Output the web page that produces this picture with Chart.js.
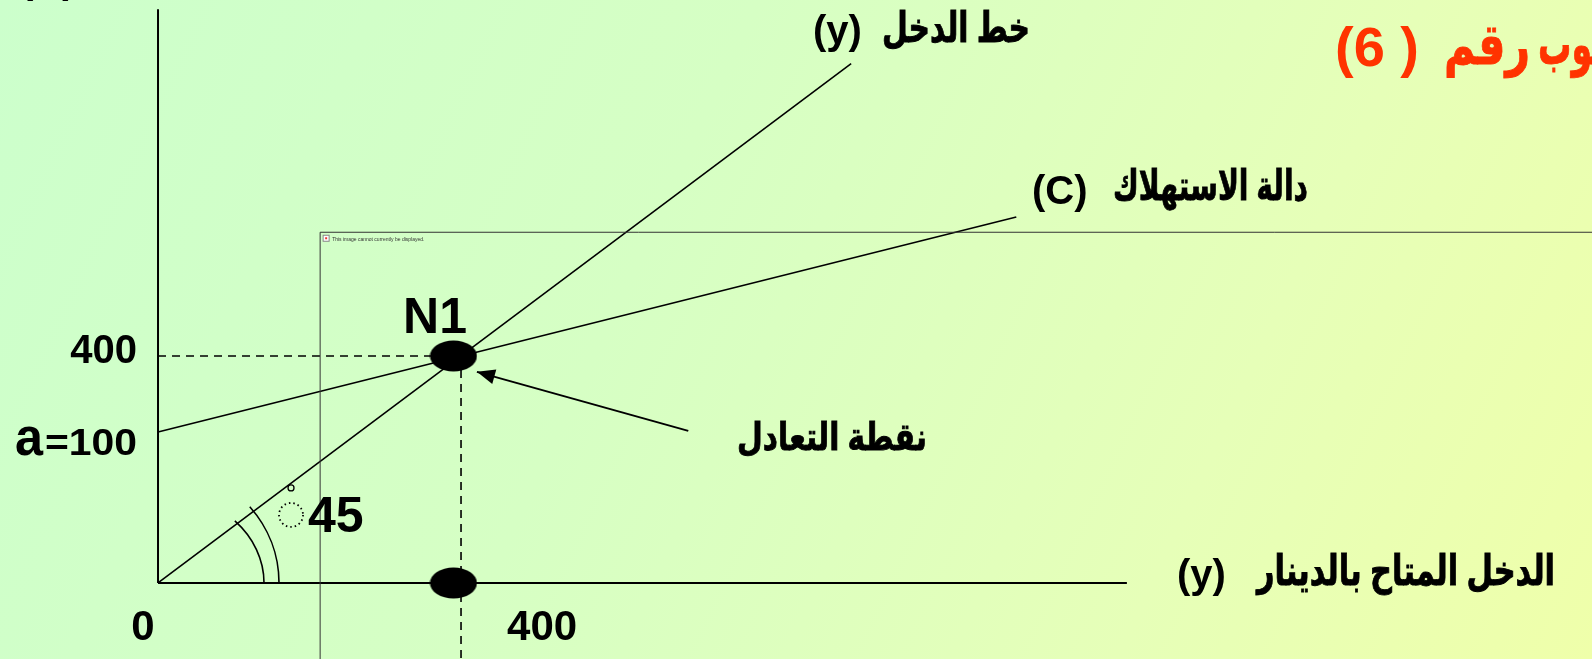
<!DOCTYPE html>
<html lang="ar">
<head>
    <meta charset="UTF-8">
    <title>نقطة التعادل - دالة الاستهلاك</title>
    <script src="https://cdn.jsdelivr.net/npm/chart.js"></script>
    <style>
        body {
            margin: 0;
            overflow: hidden;
        }
        /* Slide background: pale green to pale yellow */
        .slide {
            position: relative;
            width: 1592px;
            height: 659px;
            background: linear-gradient(115deg, #ccffcc 0%, #d6ffc4 40%, #e6ffb8 75%, #efffaa 100%);
        }
    </style>
</head>
<body>
<div class="slide">
    <canvas id="chart"></canvas>
</div>

<script>
    // Values read from the schematic (chart units; drawing is not to scale)
    const equilibrium = 400;
    const incomeX = [0, 915];          // 45 degree line y = x
    const incomeY = [0, 915];
    const consX = [0, 1133];           // C = a + bY, drawn intercept sits at 266 on the sketch
    const consY = [266, 645];
    const axisXEnd = 1279;
    const axisYEnd = 1011;
    const markerX = [390, 390];        // black ovals
    const markerY = [400, 0];
    const arrowX = [700, 421];         // tail, tip
    const arrowY = [268, 372];
    const frameX = [214, 214, 1950];   // broken picture frame
    const frameY = [-200, 618, 618];

    const yTickValues = [400, 266];
    const yTickLabels = ['400', 'a=100'];
    const xTickValues = [0, 400];
    const xTickLabels = ['0', '400'];

    const pts = (xs, ys) => xs.map((x, i) => ({ x: x, y: ys[i] }));

    const LATIN = 'Arial, "Liberation Sans", sans-serif';
    const ARABIC = 'Arial, "DejaVu Sans", "Noto Sans", sans-serif';

    // filled oval used as point style
    const oval = document.createElement('canvas');
    oval.width = 48;
    oval.height = 32;
    const oc = oval.getContext('2d');
    oc.fillStyle = '#000';
    oc.beginPath();
    oc.ellipse(24, 16, 23.5, 15.5, 0, 0, Math.PI * 2);
    oc.fill();

    const lineDs = (data, extra) => Object.assign({
        data: data,
        showLine: true,
        borderColor: '#000',
        borderWidth: 1.6,
        pointRadius: 0,
        fill: false
    }, extra || {});

    // text squeezed to the width it takes on the slide, right edge fixed
    function fitText(ctx, txt, right, base, font, width, rtl, heavy) {
        ctx.save();
        ctx.font = font;
        ctx.direction = rtl ? 'rtl' : 'ltr';
        ctx.textAlign = 'right';
        const w = ctx.measureText(txt).width;
        ctx.translate(right, base);
        ctx.scale(width / w, 1);
        ctx.fillText(txt, 0, 0);
        if (heavy) {
            ctx.lineWidth = heavy;
            ctx.strokeStyle = ctx.fillStyle;
            ctx.strokeText(txt, 0, 0);
        }
        ctx.restore();
    }
    const arabicFit = (ctx, txt, right, base, size, width) =>
        fitText(ctx, txt, right, base, 'bold ' + size + 'px ' + ARABIC, width, true, 0.9);

    // texts, ticks, angle marks and arrow head
    const sketchPlugin = {
        id: 'sketch',
        afterDatasetsDraw(chart) {
            const ctx = chart.ctx;
            const sx = chart.scales.x, sy = chart.scales.y;
            const px = v => sx.getPixelForValue(v);
            const py = v => sy.getPixelForValue(v);
            const ox = px(0), oy = py(0);

            ctx.save();
            ctx.fillStyle = '#000';
            ctx.strokeStyle = '#000';

            // arrow head
            const tx = px(arrowX[1]), ty = py(arrowY[1]);
            const ang = Math.atan2(ty - py(arrowY[0]), tx - px(arrowX[0]));
            ctx.beginPath();
            ctx.moveTo(tx, ty);
            ctx.lineTo(tx - 18 * Math.cos(ang) + 7.5 * Math.sin(ang), ty - 18 * Math.sin(ang) - 7.5 * Math.cos(ang));
            ctx.lineTo(tx - 18 * Math.cos(ang) - 7.5 * Math.sin(ang), ty - 18 * Math.sin(ang) + 7.5 * Math.cos(ang));
            ctx.closePath();
            ctx.fill();

            // angle arcs at the origin
            ctx.lineWidth = 1.6;
            [[106, 90, 0.76], [121, 117, 0.71]].forEach(a => {
                ctx.beginPath();
                ctx.ellipse(ox, oy, a[0], a[1], 0, 0, -a[2], true);
                ctx.stroke();
            });
            // degree sign and dotted circle
            ctx.lineWidth = 1.3;
            ctx.beginPath();
            ctx.arc(ox + 133, oy - 95, 3, 0, Math.PI * 2);
            ctx.stroke();
            ctx.setLineDash([1.5, 3]);
            ctx.lineWidth = 1.8;
            ctx.beginPath();
            ctx.arc(ox + 133, oy - 68, 12, 0, Math.PI * 2);
            ctx.stroke();
            ctx.setLineDash([]);

            ctx.textBaseline = 'alphabetic';
            ctx.direction = 'ltr';

            // y tick labels
            yTickValues.forEach((v, i) => {
                const lab = yTickLabels[i];
                const y = py(v);
                ctx.textAlign = 'right';
                if (lab.startsWith('a=')) {
                    fitText(ctx, lab.slice(1), ox - 21, y + 23, 'bold 36px ' + LATIN, 92, false, 0);
                    fitText(ctx, 'a', ox - 21 - 94, y + 23, 'bold 54px ' + LATIN, 28, false, 0);
                } else {
                    ctx.font = 'bold 40px ' + LATIN;
                    ctx.fillText(lab, ox - 21, y + 7);
                }
            });
            // x tick labels
            ctx.font = 'bold 42px ' + LATIN;
            ctx.textAlign = 'center';
            ctx.fillText(xTickLabels[0], px(xTickValues[0]) - 15, oy + 57);
            ctx.textAlign = 'left';
            ctx.fillText(xTickLabels[1], px(xTickValues[1]) + 46, oy + 57);

            // N1 and 45
            ctx.font = 'bold 50px ' + LATIN;
            ctx.textAlign = 'center';
            ctx.fillText('N1', px(equilibrium) - 26, py(equilibrium) - 23);
            ctx.textAlign = 'left';
            ctx.fillText('45', ox + 150, oy - 51);

            // axis titles: arabic words + latin symbol on the left
            ctx.font = 'bold 40px ' + LATIN;
            ctx.textAlign = 'left';
            ctx.fillText('(y)', 813, 44);
            ctx.fillText('(C)', 1032, 204);
            ctx.fillText('(y)', 1177, 588);
            ctx.fillText('(C)', 20, -7);
            arabicFit(ctx, 'خط الدخل', 1030, 42, 42, 148);
            arabicFit(ctx, 'دالة الاستهلاك', 1308, 200, 42, 195);
            arabicFit(ctx, 'الدخل المتاح بالدينار', 1555, 585, 42, 298);
            arabicFit(ctx, 'نقطة التعادل', 927, 450, 38, 190);

            // red slide title, cut by the right edge
            ctx.fillStyle = '#ff3300';
            ctx.font = 'bold 56px ' + LATIN;
            ctx.textAlign = 'left';
            ctx.fillText('(6 )', 1335, 66);
            arabicFit(ctx, 'رقم', 1530, 64, 56, 86);
            arabicFit(ctx, 'اسلوب', 1650, 64, 56, 112);

            // broken image notice in the frame corner
            ctx.fillStyle = '#fff';
            ctx.strokeStyle = '#888';
            ctx.lineWidth = 1;
            ctx.fillRect(px(frameX[1]) + 3, py(frameY[1]) + 3, 6, 6);
            ctx.strokeRect(px(frameX[1]) + 3, py(frameY[1]) + 3, 6, 6);
            ctx.fillStyle = '#e33';
            ctx.fillRect(px(frameX[1]) + 5, py(frameY[1]) + 5, 2, 2);
            ctx.fillStyle = '#333';
            ctx.font = '5px ' + LATIN;
            ctx.fillText('This image cannot currently be displayed.', px(frameX[1]) + 12, py(frameY[1]) + 9);
            ctx.restore();
        }
    };

    new Chart(document.getElementById('chart'), {
        type: 'scatter',
        data: {
            datasets: [
                lineDs(pts(frameX, frameY), { borderColor: '#333', borderWidth: 1 }),
                lineDs([{ x: 0, y: 0 }, { x: 0, y: axisYEnd }], { borderWidth: 2 }),
                lineDs([{ x: 0, y: 0 }, { x: axisXEnd, y: 0 }], { borderWidth: 2 }),
                lineDs(pts(incomeX, incomeY)),
                lineDs(pts(consX, consY)),
                lineDs([{ x: 0, y: equilibrium }, { x: equilibrium, y: equilibrium }], { borderDash: [8, 6] }),
                lineDs([{ x: equilibrium, y: equilibrium }, { x: equilibrium, y: -200 }], { borderDash: [8, 6] }),
                lineDs(pts(arrowX, arrowY), { borderWidth: 2 }),
                {
                    data: pts(markerX, markerY),
                    showLine: false,
                    pointStyle: oval,
                    pointRadius: 20
                }
            ]
        },
        options: {
            responsive: true,
            maintainAspectRatio: false,
            animation: false,
            layout: { padding: 0, autoPadding: false },
            plugins: {
                legend: { display: false },
                tooltip: { enabled: false }
            },
            scales: {
                x: { type: 'linear', display: false, min: -208.6, max: 1893 },
                y: { type: 'linear', display: false, min: -134, max: 1027.3 }
            }
        },
        plugins: [sketchPlugin]
    });
</script>
</body>
</html>
